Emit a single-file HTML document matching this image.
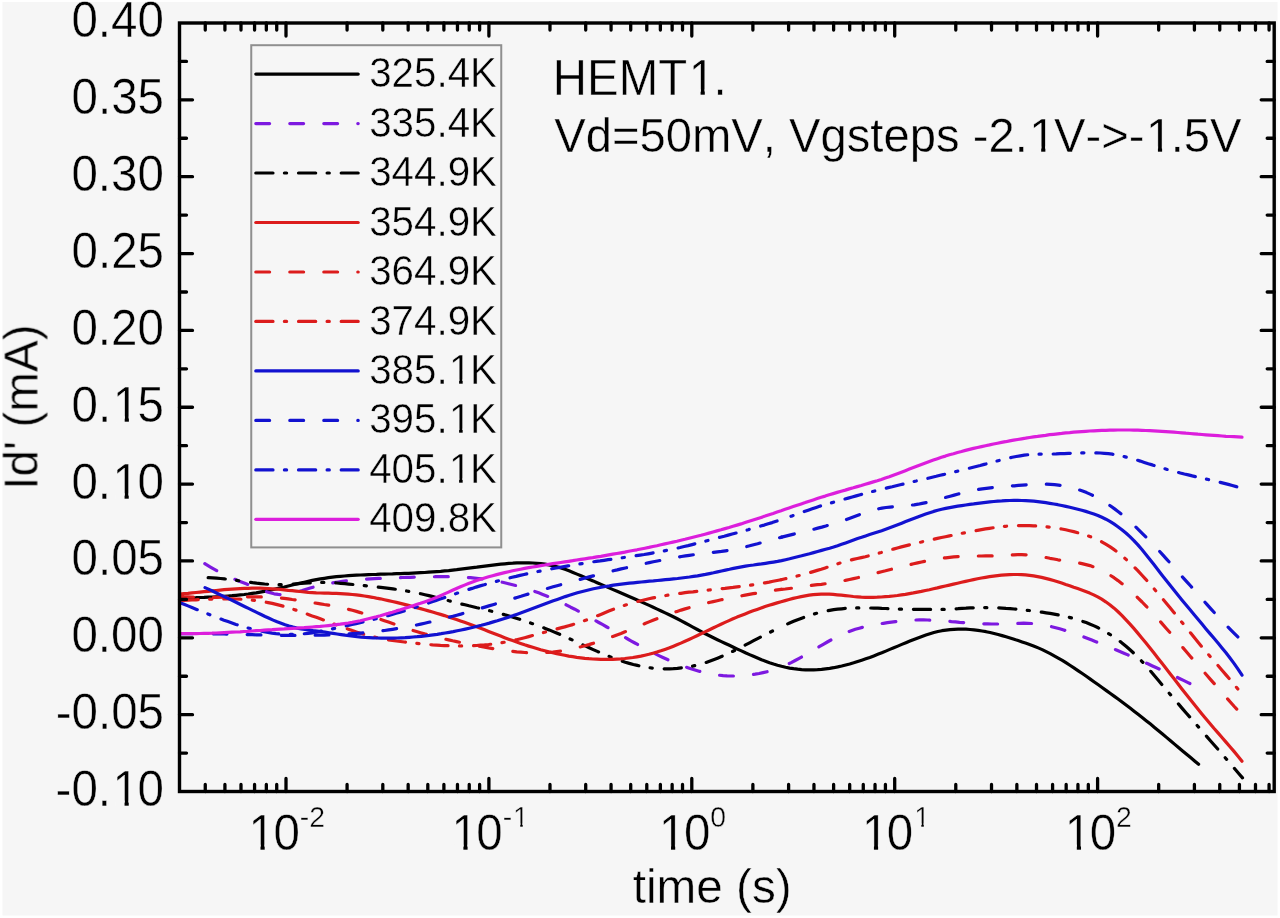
<!DOCTYPE html><html><head><meta charset="utf-8"><style>html,body{margin:0;padding:0;background:#fff;}svg{display:block;}text{font-family:"Liberation Sans",sans-serif;fill:#000;}</style></head><body>
<svg width="1280" height="918" viewBox="0 0 1280 918">
<rect x="0" y="0" width="1280" height="918" fill="#ffffff"/>
<rect x="2.5" y="2" width="1275" height="913.5" fill="#f6f6f6"/>
<g fill="none" stroke-linecap="round" stroke-linejoin="round">
<path d="M180.0,598.2 184.0,598.1 188.0,597.9 192.0,597.8 196.0,597.7 200.1,597.5 204.1,597.4 208.1,597.2 212.1,597.0 216.1,596.8 220.1,596.6 224.1,596.3 228.1,596.0 232.1,595.7 236.1,595.3 240.2,594.9 244.2,594.5 248.2,594.0 252.2,593.4 256.2,592.8 260.2,592.1 264.2,591.4 268.2,590.6 272.2,589.8 276.2,588.9 280.3,587.9 284.3,587.0 288.3,586.0 292.3,585.0 296.3,584.0 300.3,583.1 304.3,582.2 308.3,581.3 312.3,580.4 316.3,579.6 320.4,578.9 324.4,578.3 328.4,577.7 332.4,577.2 336.4,576.7 340.4,576.3 344.4,576.0 348.4,575.7 352.4,575.4 356.5,575.2 360.5,575.0 364.5,574.8 368.5,574.6 372.5,574.5 376.5,574.4 380.5,574.2 384.5,574.1 388.5,574.0 392.5,573.9 396.6,573.7 400.6,573.6 404.6,573.4 408.6,573.3 412.6,573.1 416.6,572.9 420.6,572.7 424.6,572.5 428.6,572.2 432.6,571.9 436.7,571.6 440.7,571.3 444.7,570.9 448.7,570.6 452.7,570.1 456.7,569.7 460.7,569.2 464.7,568.7 468.7,568.2 472.7,567.7 476.8,567.2 480.8,566.6 484.8,566.1 488.8,565.6 492.8,565.1 496.8,564.6 500.8,564.2 504.8,563.8 508.8,563.4 512.8,563.2 516.9,562.9 520.9,562.8 524.9,562.8 528.9,562.8 532.9,563.0 536.9,563.3 540.9,563.7 544.9,564.2 548.9,564.9 553.0,565.8 557.0,566.8 561.0,567.9 565.0,569.3 569.0,570.8 573.0,572.4 577.0,574.1 581.0,575.8 585.0,577.5 589.0,579.2 593.1,580.9 597.1,582.7 601.1,584.4 605.1,586.1 609.1,587.9 613.1,589.6 617.1,591.3 621.1,593.0 625.1,594.8 629.1,596.5 633.2,598.3 637.2,600.0 641.2,601.8 645.2,603.6 649.2,605.4 653.2,607.2 657.2,609.1 661.2,611.0 665.2,612.9 669.2,614.8 673.3,616.8 677.3,618.8 681.3,620.9 685.3,623.0 689.3,625.2 693.3,627.3 697.3,629.5 701.3,631.7 705.3,633.8 709.4,635.8 713.4,637.8 717.4,639.7 721.4,641.6 725.4,643.5 729.4,645.3 733.4,647.2 737.4,649.1 741.4,650.9 745.4,652.8 749.5,654.6 753.5,656.3 757.5,658.0 761.5,659.7 765.5,661.2 769.5,662.7 773.5,664.0 777.5,665.2 781.5,666.3 785.5,667.3 789.6,668.1 793.6,668.7 797.6,669.2 801.6,669.6 805.6,669.8 809.6,669.9 813.6,669.9 817.6,669.7 821.6,669.4 825.6,668.9 829.7,668.4 833.7,667.7 837.7,666.9 841.7,666.0 845.7,665.0 849.7,664.0 853.7,662.8 857.7,661.5 861.7,660.2 865.8,658.8 869.8,657.4 873.8,655.9 877.8,654.3 881.8,652.8 885.8,651.1 889.8,649.4 893.8,647.8 897.8,646.1 901.8,644.4 905.9,642.7 909.9,641.0 913.9,639.4 917.9,637.9 921.9,636.4 925.9,635.0 929.9,633.7 933.9,632.5 937.9,631.5 941.9,630.7 946.0,630.1 950.0,629.6 954.0,629.3 958.0,629.2 962.0,629.1 966.0,629.2 970.0,629.5 974.0,629.9 978.0,630.3 982.0,631.0 986.1,631.7 990.1,632.5 994.1,633.5 998.1,634.5 1002.1,635.6 1006.1,636.8 1010.1,638.0 1014.1,639.3 1018.1,640.6 1022.1,641.9 1026.2,643.3 1030.2,644.7 1034.2,646.2 1038.2,647.9 1042.2,649.6 1046.2,651.6 1050.2,653.6 1054.2,655.8 1058.2,658.1 1062.3,660.4 1066.3,662.9 1070.3,665.5 1074.3,668.1 1078.3,670.8 1082.3,673.5 1086.3,676.3 1090.3,679.1 1094.3,682.0 1098.3,684.8 1102.4,687.7 1106.4,690.6 1110.4,693.5 1114.4,696.4 1118.4,699.3 1122.4,702.3 1126.4,705.3 1130.4,708.3 1134.4,711.4 1138.4,714.5 1142.5,717.7 1146.5,720.9 1150.5,724.1 1154.5,727.4 1158.5,730.7 1162.5,734.0 1166.5,737.4 1170.5,740.7 1174.5,744.1 1178.5,747.5 1182.6,750.9 1186.6,754.3 1190.6,757.6 1194.6,761.0 1198.6,764.3" stroke="#000000" stroke-width="3.2"/>
<path d="M202.0,561.8 206.0,564.4 210.0,566.8 214.0,569.1 218.0,571.4 222.0,573.5 226.0,575.4 230.1,577.3 234.1,579.0 238.1,580.7 242.1,582.2 246.1,583.8 250.1,585.4 254.1,587.1 258.1,588.7 262.1,590.2 266.1,591.6 270.1,592.8 274.1,593.8 278.2,594.4 282.2,594.7 286.2,594.4 290.2,593.8 294.2,592.9 298.2,591.7 302.2,590.5 306.2,589.2 310.2,588.0 314.2,586.9 318.2,585.8 322.2,584.9 326.3,584.1 330.3,583.3 334.3,582.6 338.3,582.0 342.3,581.4 346.3,580.9 350.3,580.4 354.3,580.0 358.3,579.7 362.3,579.4 366.3,579.1 370.3,578.8 374.3,578.6 378.4,578.4 382.4,578.3 386.4,578.1 390.4,578.0 394.4,577.8 398.4,577.7 402.4,577.5 406.4,577.4 410.4,577.3 414.4,577.1 418.4,577.0 422.4,576.9 426.5,576.8 430.5,576.7 434.5,576.7 438.5,576.6 442.5,576.6 446.5,576.7 450.5,576.7 454.5,576.8 458.5,577.0 462.5,577.2 466.5,577.4 470.5,577.7 474.6,578.1 478.6,578.5 482.6,579.0 486.6,579.5 490.6,580.1 494.6,580.8 498.6,581.5 502.6,582.3 506.6,583.2 510.6,584.2 514.6,585.2 518.6,586.3 522.6,587.4 526.7,588.7 530.7,590.0 534.7,591.4 538.7,592.8 542.7,594.4 546.7,596.0 550.7,597.7 554.7,599.4 558.7,601.3 562.7,603.2 566.7,605.1 570.7,607.2 574.8,609.2 578.8,611.4 582.8,613.5 586.8,615.7 590.8,617.9 594.8,620.2 598.8,622.5 602.8,624.7 606.8,627.0 610.8,629.3 614.8,631.6 618.8,633.9 622.9,636.2 626.9,638.5 630.9,640.8 634.9,643.0 638.9,645.2 642.9,647.4 646.9,649.5 650.9,651.6 654.9,653.6 658.9,655.6 662.9,657.5 666.9,659.3 670.9,661.1 675.0,662.8 679.0,664.4 683.0,666.0 687.0,667.4 691.0,668.8 695.0,670.0 699.0,671.2 703.0,672.2 707.0,673.1 711.0,673.9 715.0,674.6 719.0,675.2 723.1,675.6 727.1,675.9 731.1,676.0 735.1,676.0 739.1,675.9 743.1,675.7 747.1,675.3 751.1,674.8 755.1,674.2 759.1,673.5 763.1,672.6 767.1,671.7 771.1,670.5 775.2,669.3 779.2,667.8" stroke="#7d19e0" stroke-width="3.2" stroke-dasharray="13.8 20.2" stroke-dashoffset="30.64"/>
<path d="M779.2,667.8 783.2,666.2 787.2,664.5 791.2,662.6 795.2,660.5 799.2,658.3 803.2,656.1 807.2,653.8 811.2,651.4 815.2,649.0 819.2,646.7 823.3,644.3 827.3,642.0 831.3,639.8 835.3,637.7 839.3,635.7 843.3,633.9 847.3,632.2 851.3,630.7 855.3,629.3 859.3,628.2 863.3,627.1 867.3,626.2 871.4,625.4 875.4,624.6 879.4,623.9 883.4,623.3 887.4,622.7 891.4,622.1 895.4,621.6 899.4,621.1 903.4,620.7 907.4,620.4 911.4,620.1 915.4,620.0 919.4,619.9 923.5,619.9 927.5,620.0 931.5,620.2 935.5,620.4 939.5,620.6 943.5,620.9 947.5,621.2 951.5,621.6 955.5,621.9 959.5,622.3 963.5,622.6 967.5,622.9 971.6,623.2 975.6,623.4 979.6,623.6 983.6,623.8 987.6,623.9 991.6,624.0 995.6,624.0 999.6,624.0 1003.6,623.8 1007.6,623.7 1011.6,623.5 1015.6,623.4 1019.7,623.3 1023.7,623.2 1027.7,623.3 1031.7,623.5 1035.7,623.8 1039.7,624.3 1043.7,625.0 1047.7,625.8 1051.7,626.7 1055.7,627.7 1059.7,628.8 1063.7,630.0 1067.7,631.3 1071.8,632.7 1075.8,634.1 1079.8,635.5 1083.8,637.0 1087.8,638.6 1091.8,640.1 1095.8,641.7 1099.8,643.3 1103.8,644.9 1107.8,646.5 1111.8,648.1 1115.8,649.8 1119.9,651.5 1123.9,653.2 1127.9,654.9 1131.9,656.7 1135.9,658.5 1139.9,660.2 1143.9,662.0 1147.9,663.8 1151.9,665.7 1155.9,667.5 1159.9,669.3 1163.9,671.2 1168.0,673.1 1172.0,674.9 1176.0,676.8 1180.0,678.7 1184.0,680.6 1188.0,682.6 1192.0,684.5" stroke="#7d19e0" stroke-width="3.2" stroke-dasharray="13.8 20.2" stroke-dashoffset="23.04"/>
<path d="M204.5,577.6 208.5,577.7 212.5,577.9 216.5,578.1 220.5,578.5 224.5,578.9 228.5,579.4 232.6,579.9 236.6,580.4 240.6,581.0 244.6,581.6 248.6,582.1 252.6,582.7 256.6,583.2 260.6,583.6 264.6,584.0 268.6,584.3 272.6,584.5 276.6,584.7 280.6,584.7 284.7,584.6 288.7,584.4 292.7,584.1 296.7,583.8 300.7,583.5 304.7,583.2 308.7,582.9 312.7,582.7 316.7,582.5 320.7,582.4 324.7,582.4 328.7,582.5 332.7,582.7 336.8,583.0 340.8,583.3 344.8,583.7 348.8,584.1 352.8,584.5 356.8,584.9 360.8,585.3 364.8,585.7 368.8,586.1 372.8,586.5 376.8,586.9 380.8,587.4 384.8,587.9 388.9,588.4 392.9,588.9 396.9,589.5 400.9,590.1 404.9,590.7 408.9,591.4 412.9,592.1 416.9,592.9 420.9,593.8 424.9,594.7 428.9,595.6 432.9,596.6 436.9,597.7 441.0,598.7 445.0,599.7 449.0,600.8 453.0,601.8 457.0,602.9 461.0,603.9 465.0,604.8 469.0,605.8 473.0,606.7 477.0,607.7 481.0,608.6 485.0,609.6 489.0,610.6 493.1,611.6 497.1,612.6 501.1,613.7 505.1,614.9 509.1,616.0 513.1,617.2 517.1,618.5 521.1,619.8 525.1,621.1 529.1,622.5 533.1,623.9 537.1,625.3 541.1,626.8 545.2,628.4 549.2,629.9 553.2,631.6 557.2,633.3 561.2,635.0 565.2,636.7 569.2,638.6 573.2,640.4 577.2,642.2 581.2,644.1 585.2,645.9 589.2,647.8 593.2,649.6 597.3,651.4 601.3,653.1 605.3,654.8 609.3,656.4 613.3,658.0 617.3,659.5 621.3,660.9 625.3,662.2 629.3,663.4 633.3,664.5 637.3,665.4 641.3,666.3 645.3,667.1 649.4,667.7 653.4,668.2 657.4,668.5 661.4,668.8 665.4,668.8 669.4,668.8 673.4,668.6 677.4,668.3 681.4,667.8 685.4,667.3 689.4,666.7 693.4,665.9 697.4,665.0 701.5,663.9 705.5,662.7 709.5,661.3 713.5,659.8 717.5,658.2 721.5,656.5 725.5,654.7 729.5,652.9 733.5,651.0 737.5,649.0 741.5,646.9 745.5,644.9 749.6,642.8 753.6,640.7 757.6,638.6 761.6,636.5 765.6,634.5 769.6,632.5 773.6,630.5 777.6,628.5 781.6,626.6" stroke="#000000" stroke-width="3.2" stroke-dasharray="17.2 11.4 2.2 11.9" stroke-dashoffset="39.07"/>
<path d="M781.6,626.6 785.6,624.8 789.6,623.0 793.6,621.3 797.6,619.7 801.7,618.2 805.7,616.7 809.7,615.4 813.7,614.1 817.7,613.0 821.7,612.0 825.7,611.1 829.7,610.4 833.7,609.7 837.7,609.2 841.7,608.8 845.7,608.4 849.7,608.2 853.8,608.0 857.8,607.9 861.8,607.9 865.8,607.9 869.8,608.0 873.8,608.1 877.8,608.2 881.8,608.4 885.8,608.5 889.8,608.7 893.8,608.8 897.8,609.0 901.8,609.1 905.9,609.2 909.9,609.3 913.9,609.3 917.9,609.4 921.9,609.4 925.9,609.4 929.9,609.4 933.9,609.5 937.9,609.5 941.9,609.4 945.9,609.3 949.9,609.1 953.9,608.9 958.0,608.7 962.0,608.4 966.0,608.2 970.0,607.9 974.0,607.8 978.0,607.7 982.0,607.6 986.0,607.6 990.0,607.7 994.0,607.8 998.0,607.9 1002.0,608.1 1006.0,608.4 1010.1,608.6 1014.1,609.0 1018.1,609.3 1022.1,609.7 1026.1,610.2 1030.1,610.6 1034.1,611.1 1038.1,611.7 1042.1,612.2 1046.1,612.8 1050.1,613.4 1054.1,614.1 1058.1,614.9 1062.2,615.7 1066.2,616.6 1070.2,617.6 1074.2,618.6 1078.2,619.8 1082.2,621.2 1086.2,622.6 1090.2,624.2 1094.2,625.9 1098.2,627.8 1102.2,629.9 1106.2,632.2 1110.2,634.6 1114.3,637.3 1118.3,640.1 1122.3,643.2 1126.3,646.5 1130.3,650.0 1134.3,653.7 1138.3,657.6 1142.3,661.8 1146.3,666.2 1150.3,670.8 1154.3,675.5 1158.3,680.3 1162.3,685.1 1166.4,689.9 1170.4,694.6 1174.4,699.3 1178.4,703.9 1182.4,708.6 1186.4,713.2 1190.4,717.8 1194.4,722.3 1198.4,726.9 1202.4,731.5 1206.4,736.1 1210.4,740.7 1214.4,745.3 1218.5,749.9 1222.5,754.5 1226.5,759.2 1230.5,763.8 1234.5,768.5 1238.5,773.2 1242.5,777.9" stroke="#000000" stroke-width="3.2" stroke-dasharray="17.2 11.4 2.2 11.9" stroke-dashoffset="36.02"/>
<path d="M180.0,594.0 184.0,593.6 188.0,593.3 192.0,592.9 196.0,592.5 200.0,592.1 204.0,591.7 208.1,591.3 212.1,590.9 216.1,590.5 220.1,590.1 224.1,589.7 228.1,589.4 232.1,589.1 236.1,588.8 240.1,588.6 244.1,588.4 248.1,588.3 252.1,588.2 256.1,588.2 260.2,588.2 264.2,588.3 268.2,588.5 272.2,588.8 276.2,589.1 280.2,589.4 284.2,589.8 288.2,590.3 292.2,590.7 296.2,591.1 300.2,591.5 304.2,591.9 308.2,592.3 312.2,592.6 316.3,592.9 320.3,593.0 324.3,593.2 328.3,593.2 332.3,593.3 336.3,593.4 340.3,593.6 344.3,593.8 348.3,594.1 352.3,594.5 356.3,594.9 360.3,595.4 364.3,596.0 368.4,596.6 372.4,597.3 376.4,598.1 380.4,598.8 384.4,599.7 388.4,600.6 392.4,601.5 396.4,602.4 400.4,603.4 404.4,604.4 408.4,605.4 412.4,606.5 416.4,607.6 420.5,608.6 424.5,609.7 428.5,610.9 432.5,612.0 436.5,613.2 440.5,614.4 444.5,615.6 448.5,616.9 452.5,618.2 456.5,619.5 460.5,620.9 464.5,622.3 468.5,623.7 472.6,625.2 476.6,626.7 480.6,628.2 484.6,629.8 488.6,631.4 492.6,633.0 496.6,634.6 500.6,636.1 504.6,637.7 508.6,639.2 512.6,640.6 516.6,642.1 520.6,643.4 524.6,644.8 528.7,646.1 532.7,647.3 536.7,648.5 540.7,649.7 544.7,650.7 548.7,651.8 552.7,652.8 556.7,653.7 560.7,654.5 564.7,655.3 568.7,656.1 572.7,656.7 576.7,657.3 580.8,657.8 584.8,658.3 588.8,658.7 592.8,659.0 596.8,659.2 600.8,659.4 604.8,659.4 608.8,659.4 612.8,659.3 616.8,659.1 620.8,658.9 624.8,658.5 628.8,658.0 632.9,657.5 636.9,656.8 640.9,656.1 644.9,655.2 648.9,654.3 652.9,653.2 656.9,652.1 660.9,650.8 664.9,649.4 668.9,648.0 672.9,646.4 676.9,644.8 680.9,643.1 685.0,641.3 689.0,639.5 693.0,637.6 697.0,635.7 701.0,633.8 705.0,631.9 709.0,630.0 713.0,628.0 717.0,626.1 721.0,624.3 725.0,622.4 729.0,620.6 733.0,618.8 737.0,617.1 741.1,615.5 745.1,613.9 749.1,612.3 753.1,610.8 757.1,609.4 761.1,608.0 765.1,606.6 769.1,605.3 773.1,604.1 777.1,602.9 781.1,601.7 785.1,600.6 789.1,599.5 793.2,598.4 797.2,597.5 801.2,596.6 805.2,595.9 809.2,595.2 813.2,594.7 817.2,594.3 821.2,594.1 825.2,594.1 829.2,594.2 833.2,594.4 837.2,594.8 841.2,595.2 845.3,595.6 849.3,596.0 853.3,596.5 857.3,596.8 861.3,597.1 865.3,597.3 869.3,597.4 873.3,597.3 877.3,597.2 881.3,597.0 885.3,596.7 889.3,596.4 893.3,596.0 897.4,595.5 901.4,594.9 905.4,594.3 909.4,593.6 913.4,592.9 917.4,592.1 921.4,591.4 925.4,590.5 929.4,589.7 933.4,588.8 937.4,587.9 941.4,586.9 945.4,586.0 949.4,585.1 953.5,584.1 957.5,583.2 961.5,582.3 965.5,581.4 969.5,580.5 973.5,579.6 977.5,578.8 981.5,578.0 985.5,577.3 989.5,576.7 993.5,576.1 997.5,575.6 1001.5,575.2 1005.6,574.9 1009.6,574.6 1013.6,574.5 1017.6,574.5 1021.6,574.7 1025.6,574.9 1029.6,575.3 1033.6,575.9 1037.6,576.6 1041.6,577.4 1045.6,578.4 1049.6,579.4 1053.6,580.5 1057.7,581.7 1061.7,583.0 1065.7,584.4 1069.7,585.7 1073.7,587.2 1077.7,588.6 1081.7,590.0 1085.7,591.5 1089.7,593.1 1093.7,594.9 1097.7,596.9 1101.7,599.2 1105.7,601.8 1109.8,604.7 1113.8,607.9 1117.8,611.5 1121.8,615.4 1125.8,619.6 1129.8,623.9 1133.8,628.4 1137.8,633.1 1141.8,637.9 1145.8,642.8 1149.8,647.7 1153.8,652.8 1157.8,657.9 1161.8,663.1 1165.9,668.2 1169.9,673.4 1173.9,678.6 1177.9,683.7 1181.9,688.9 1185.9,694.0 1189.9,699.1 1193.9,704.1 1197.9,709.1 1201.9,714.0 1205.9,718.8 1209.9,723.6 1213.9,728.3 1218.0,732.9 1222.0,737.5 1226.0,742.1 1230.0,746.7 1234.0,751.4 1238.0,756.2 1242.0,761.2" stroke="#dc1c1c" stroke-width="3.2"/>
<path d="M180.0,596.4 184.0,596.7 188.0,596.9 192.0,597.1 196.0,597.2 200.0,597.3 204.1,597.4 208.1,597.4 212.1,597.3 216.1,597.3 220.1,597.2 224.1,597.1 228.1,597.1 232.1,597.0 236.1,596.9 240.1,596.8 244.1,596.8 248.1,596.8 252.2,596.8 256.2,596.8 260.2,596.9 264.2,597.0 268.2,597.1 272.2,597.4 276.2,597.7 280.2,598.0 284.2,598.4 288.2,598.9 292.2,599.5 296.3,600.0 300.3,600.6 304.3,601.3 308.3,601.9 312.3,602.5 316.3,603.2 320.3,603.8 324.3,604.5 328.3,605.1 332.3,605.8 336.3,606.6 340.3,607.4 344.4,608.3 348.4,609.3 352.4,610.3 356.4,611.4 360.4,612.6 364.4,613.9 368.4,615.2 372.4,616.5 376.4,617.9 380.4,619.3 384.4,620.7 388.5,622.1 392.5,623.5 396.5,624.9 400.5,626.3 404.5,627.7 408.5,629.0 412.5,630.3 416.5,631.5 420.5,632.7 424.5,633.9 428.5,635.0 432.5,636.0 436.6,637.0 440.6,638.0 444.6,639.0 448.6,639.9 452.6,640.8 456.6,641.6 460.6,642.5 464.6,643.3 468.6,644.1 472.6,644.9 476.6,645.6 480.7,646.4 484.7,647.1 488.7,647.9 492.7,648.6 496.7,649.2 500.7,649.8 504.7,650.4 508.7,651.0 512.7,651.4 516.7,651.9 520.7,652.2 524.7,652.5 528.8,652.7 532.8,652.8 536.8,652.9 540.8,652.8 544.8,652.6 548.8,652.4 552.8,652.0 556.8,651.5 560.8,651.0 564.8,650.3 568.8,649.5 572.9,648.7 576.9,647.8 580.9,646.8 584.9,645.7 588.9,644.6 592.9,643.4 596.9,642.1 600.9,640.8 604.9,639.4 608.9,638.0 612.9,636.5 616.9,634.9 621.0,633.4 625.0,631.8 629.0,630.1 633.0,628.5 637.0,626.9 641.0,625.2 645.0,623.6 649.0,621.9 653.0,620.3 657.0,618.7 661.0,617.2 665.1,615.7 669.1,614.2 673.1,612.8 677.1,611.4 681.1,610.1 685.1,608.9 689.1,607.7 693.1,606.6 697.1,605.5 701.1,604.5 705.1,603.5 709.1,602.5 713.2,601.6 717.2,600.7 721.2,599.8 725.2,599.0 729.2,598.2 733.2,597.4 737.2,596.6 741.2,595.9 745.2,595.1 749.2,594.4 753.2,593.7 757.3,593.0 761.3,592.3 765.3,591.6 769.3,591.0 773.3,590.5 777.3,589.9 781.3,589.4" stroke="#dc1c1c" stroke-width="3.2" stroke-dasharray="13.8 20.2" stroke-dashoffset="0.45"/>
<path d="M781.3,589.4 785.3,589.0 789.3,588.5 793.3,588.0 797.3,587.4 801.4,586.8 805.4,586.2 809.4,585.7 813.4,585.2 817.4,584.7 821.4,584.3 825.4,583.7 829.4,583.2 833.4,582.6 837.4,581.9 841.4,581.1 845.4,580.4 849.5,579.5 853.5,578.6 857.5,577.7 861.5,576.8 865.5,575.8 869.5,574.9 873.5,573.9 877.5,572.8 881.5,571.8 885.5,570.8 889.5,569.7 893.6,568.7 897.6,567.7 901.6,566.7 905.6,565.7 909.6,564.7 913.6,563.8 917.6,562.9 921.6,562.0 925.6,561.1 929.6,560.4 933.6,559.6 937.6,558.9 941.7,558.3 945.7,557.8 949.7,557.3 953.7,556.9 957.7,556.6 961.7,556.3 965.7,556.2 969.7,556.1 973.7,556.0 977.7,556.0 981.7,556.0 985.8,555.9 989.8,555.9 993.8,555.8 997.8,555.6 1001.8,555.4 1005.8,555.2 1009.8,555.0 1013.8,554.8 1017.8,554.7 1021.8,554.7 1025.8,554.9 1029.8,555.2 1033.9,555.6 1037.9,556.2 1041.9,556.8 1045.9,557.5 1049.9,558.3 1053.9,559.0 1057.9,559.8 1061.9,560.4 1065.9,561.1 1069.9,561.6 1073.9,562.2 1078.0,562.9 1082.0,563.6 1086.0,564.6 1090.0,565.6 1094.0,567.0 1098.0,568.6 1102.0,570.5 1106.0,572.7 1110.0,575.1 1114.0,577.7 1118.0,580.6 1122.0,583.7 1126.1,587.1 1130.1,590.6 1134.1,594.2 1138.1,598.1 1142.1,602.0 1146.1,606.1 1150.1,610.4 1154.1,614.7 1158.1,619.1 1162.1,623.6 1166.1,628.2 1170.2,632.8 1174.2,637.5 1178.2,642.1 1182.2,646.8 1186.2,651.5 1190.2,656.2 1194.2,660.8 1198.2,665.4 1202.2,670.0 1206.2,674.5 1210.2,679.1 1214.2,683.6 1218.3,688.2 1222.3,692.8 1226.3,697.4 1230.3,702.0 1234.3,706.5 1238.3,710.8" stroke="#dc1c1c" stroke-width="3.2" stroke-dasharray="13.8 20.2" stroke-dashoffset="3.67"/>
<path d="M180.0,600.5 184.0,600.4 188.0,600.2 192.0,600.0 196.0,599.8 200.0,599.6 204.0,599.5 208.1,599.3 212.1,599.1 216.1,599.0 220.1,598.9 224.1,598.9 228.1,598.9 232.1,598.9 236.1,599.0 240.1,599.2 244.1,599.4 248.1,599.7 252.1,600.1 256.1,600.6 260.2,601.1 264.2,601.8 268.2,602.6 272.2,603.4 276.2,604.4 280.2,605.4 284.2,606.5 288.2,607.7 292.2,609.0 296.2,610.2 300.2,611.6 304.2,613.0 308.2,614.4 312.2,615.9 316.3,617.3 320.3,618.8 324.3,620.3 328.3,621.8 332.3,623.4 336.3,624.9 340.3,626.3 344.3,627.8 348.3,629.2 352.3,630.6 356.3,631.9 360.3,633.2 364.3,634.4 368.4,635.5 372.4,636.6 376.4,637.5 380.4,638.4 384.4,639.1 388.4,639.8 392.4,640.4 396.4,641.0 400.4,641.5 404.4,642.0 408.4,642.5 412.4,643.0 416.4,643.4 420.5,643.8 424.5,644.2 428.5,644.5 432.5,644.9 436.5,645.1 440.5,645.4 444.5,645.6 448.5,645.7 452.5,645.9 456.5,645.9 460.5,646.0 464.5,645.9 468.5,645.8 472.6,645.7 476.6,645.5 480.6,645.2 484.6,644.9 488.6,644.5 492.6,644.0 496.6,643.5 500.6,642.9 504.6,642.2 508.6,641.4 512.6,640.6 516.6,639.7 520.6,638.7 524.6,637.7 528.7,636.6 532.7,635.5 536.7,634.4 540.7,633.3 544.7,632.2 548.7,631.1 552.7,630.1 556.7,629.0 560.7,627.9 564.7,626.9 568.7,625.7 572.7,624.6 576.7,623.3 580.8,622.0 584.8,620.6 588.8,619.2 592.8,617.6 596.8,616.0 600.8,614.4 604.8,612.7 608.8,611.1 612.8,609.5 616.8,608.0 620.8,606.6 624.8,605.3 628.8,604.0 632.9,602.8 636.9,601.7 640.9,600.7 644.9,599.7 648.9,598.8 652.9,597.9 656.9,597.1 660.9,596.4 664.9,595.7 668.9,595.0 672.9,594.4 676.9,593.8 680.9,593.3 685.0,592.7 689.0,592.2 693.0,591.8 697.0,591.3 701.0,590.8 705.0,590.4 709.0,590.0 713.0,589.6 717.0,589.1 721.0,588.7 725.0,588.3 729.0,587.8 733.0,587.4 737.0,586.9 741.1,586.4 745.1,585.9 749.1,585.4 753.1,584.8 757.1,584.2 761.1,583.5 765.1,582.8 769.1,582.1 773.1,581.3 777.1,580.5 781.1,579.7" stroke="#dc1c1c" stroke-width="3.2" stroke-dasharray="17.2 11.4 2.2 11.9" stroke-dashoffset="41.61"/>
<path d="M781.1,579.7 785.1,578.8 789.1,577.9 793.2,577.0 797.2,576.0 801.2,575.0 805.2,573.9 809.2,572.8 813.2,571.6 817.2,570.4 821.2,569.2 825.2,567.9 829.2,566.6 833.2,565.3 837.2,564.0 841.2,562.7 845.3,561.5 849.3,560.4 853.3,559.4 857.3,558.5 861.3,557.6 865.3,556.7 869.3,555.7 873.3,554.7 877.3,553.6 881.3,552.5 885.3,551.3 889.3,550.2 893.3,549.1 897.4,548.0 901.4,546.9 905.4,545.9 909.4,544.9 913.4,543.9 917.4,542.9 921.4,542.0 925.4,541.0 929.4,540.1 933.4,539.3 937.4,538.4 941.4,537.5 945.4,536.7 949.4,535.9 953.5,535.0 957.5,534.2 961.5,533.4 965.5,532.6 969.5,531.8 973.5,531.1 977.5,530.3 981.5,529.6 985.5,528.9 989.5,528.3 993.5,527.7 997.5,527.2 1001.5,526.7 1005.6,526.3 1009.6,526.0 1013.6,525.8 1017.6,525.6 1021.6,525.6 1025.6,525.6 1029.6,525.6 1033.6,525.8 1037.6,526.0 1041.6,526.3 1045.6,526.7 1049.6,527.2 1053.6,527.7 1057.7,528.3 1061.7,529.0 1065.7,529.8 1069.7,530.7 1073.7,531.6 1077.7,532.7 1081.7,533.8 1085.7,535.1 1089.7,536.5 1093.7,538.0 1097.7,539.8 1101.7,541.8 1105.7,544.1 1109.8,546.6 1113.8,549.4 1117.8,552.4 1121.8,555.6 1125.8,559.1 1129.8,562.8 1133.8,566.6 1137.8,570.7 1141.8,575.0 1145.8,579.3 1149.8,583.9 1153.8,588.5 1157.8,593.2 1161.8,597.9 1165.9,602.7 1169.9,607.5 1173.9,612.4 1177.9,617.3 1181.9,622.3 1185.9,627.2 1189.9,632.1 1193.9,637.1 1197.9,641.9 1201.9,646.8 1205.9,651.5 1209.9,656.2 1213.9,660.9 1218.0,665.5 1222.0,670.2 1226.0,674.9 1230.0,679.6 1234.0,684.4 1238.0,689.2 1242.0,694.2" stroke="#dc1c1c" stroke-width="3.2" stroke-dasharray="17.2 11.4 2.2 11.9" stroke-dashoffset="12.27"/>
<path d="M205.0,587.6 209.0,589.4 213.0,591.3 217.0,593.2 221.0,595.1 225.0,597.0 229.0,598.9 233.0,600.8 237.0,602.7 241.0,604.7 245.0,606.7 249.0,608.6 253.0,610.6 257.1,612.6 261.1,614.5 265.1,616.5 269.1,618.3 273.1,620.1 277.1,621.8 281.1,623.3 285.1,624.8 289.1,626.0 293.1,627.1 297.1,628.1 301.1,628.8 305.1,629.5 309.1,630.1 313.1,630.7 317.1,631.2 321.1,631.7 325.1,632.2 329.1,632.8 333.1,633.4 337.1,634.0 341.1,634.6 345.1,635.2 349.1,635.7 353.1,636.2 357.1,636.7 361.2,637.1 365.2,637.4 369.2,637.6 373.2,637.9 377.2,638.0 381.2,638.1 385.2,638.2 389.2,638.1 393.2,638.1 397.2,638.0 401.2,637.8 405.2,637.6 409.2,637.3 413.2,637.0 417.2,636.7 421.2,636.3 425.2,635.9 429.2,635.4 433.2,634.8 437.2,634.3 441.2,633.7 445.2,633.0 449.2,632.3 453.2,631.6 457.2,630.8 461.2,630.0 465.3,629.1 469.3,628.2 473.3,627.3 477.3,626.3 481.3,625.3 485.3,624.2 489.3,623.1 493.3,621.9 497.3,620.8 501.3,619.5 505.3,618.3 509.3,616.9 513.3,615.6 517.3,614.2 521.3,612.8 525.3,611.3 529.3,609.8 533.3,608.3 537.3,606.8 541.3,605.3 545.3,603.8 549.3,602.3 553.3,600.8 557.3,599.4 561.3,598.0 565.3,596.6 569.4,595.3 573.4,594.0 577.4,592.8 581.4,591.7 585.4,590.7 589.4,589.7 593.4,588.8 597.4,588.0 601.4,587.2 605.4,586.5 609.4,585.9 613.4,585.2 617.4,584.7 621.4,584.2 625.4,583.7 629.4,583.2 633.4,582.8 637.4,582.4 641.4,582.0 645.4,581.6 649.4,581.2 653.4,580.9 657.4,580.5 661.4,580.1 665.4,579.7 669.4,579.3 673.5,578.9 677.5,578.5 681.5,578.0 685.5,577.5 689.5,577.0 693.5,576.4 697.5,575.8 701.5,575.1 705.5,574.4 709.5,573.6 713.5,572.8 717.5,571.9 721.5,571.0 725.5,570.1 729.5,569.3 733.5,568.4 737.5,567.6 741.5,566.9 745.5,566.2 749.5,565.5 753.5,565.0 757.5,564.4 761.5,563.9 765.5,563.3 769.5,562.7 773.5,562.1 777.6,561.4 781.6,560.6 785.6,559.7 789.6,558.8 793.6,557.8 797.6,556.8 801.6,555.8 805.6,554.7 809.6,553.7 813.6,552.6 817.6,551.5 821.6,550.4 825.6,549.3 829.6,548.2 833.6,547.0 837.6,545.7 841.6,544.3 845.6,542.9 849.6,541.5 853.6,540.1 857.6,538.6 861.6,537.3 865.6,535.9 869.6,534.6 873.6,533.3 877.6,532.0 881.7,530.7 885.7,529.3 889.7,527.8 893.7,526.3 897.7,524.8 901.7,523.2 905.7,521.6 909.7,520.0 913.7,518.5 917.7,516.9 921.7,515.4 925.7,514.0 929.7,512.7 933.7,511.4 937.7,510.3 941.7,509.3 945.7,508.4 949.7,507.6 953.7,506.9 957.7,506.2 961.7,505.6 965.7,505.0 969.7,504.4 973.7,503.9 977.7,503.3 981.7,502.8 985.8,502.3 989.8,501.9 993.8,501.5 997.8,501.1 1001.8,500.9 1005.8,500.6 1009.8,500.5 1013.8,500.4 1017.8,500.4 1021.8,500.5 1025.8,500.7 1029.8,500.9 1033.8,501.2 1037.8,501.6 1041.8,502.1 1045.8,502.7 1049.8,503.3 1053.8,504.0 1057.8,504.7 1061.8,505.5 1065.8,506.4 1069.8,507.3 1073.8,508.3 1077.8,509.3 1081.8,510.3 1085.8,511.4 1089.9,512.7 1093.9,514.0 1097.9,515.5 1101.9,517.3 1105.9,519.2 1109.9,521.4 1113.9,523.9 1117.9,526.7 1121.9,529.7 1125.9,533.0 1129.9,536.7 1133.9,540.6 1137.9,544.9 1141.9,549.5 1145.9,554.4 1149.9,559.5 1153.9,564.6 1157.9,569.8 1161.9,574.9 1165.9,579.9 1169.9,585.0 1173.9,590.0 1177.9,594.9 1181.9,599.9 1185.9,604.8 1189.9,609.6 1194.0,614.5 1198.0,619.3 1202.0,624.1 1206.0,628.9 1210.0,633.6 1214.0,638.3 1218.0,643.1 1222.0,647.9 1226.0,652.8 1230.0,658.0 1234.0,663.4 1238.0,669.1 1242.0,675.2" stroke="#1212d0" stroke-width="3.2"/>
<path d="M180.0,633.7 184.0,633.6 188.0,633.6 192.0,633.6 196.0,633.6 200.1,633.7 204.1,633.7 208.1,633.8 212.1,633.8 216.1,633.9 220.1,634.0 224.1,634.0 228.1,634.1 232.1,634.2 236.2,634.3 240.2,634.4 244.2,634.5 248.2,634.6 252.2,634.7 256.2,634.8 260.2,634.9 264.2,635.0 268.2,635.1 272.3,635.1 276.3,635.2 280.3,635.3 284.3,635.3 288.3,635.3 292.3,635.4 296.3,635.4 300.3,635.4 304.4,635.4 308.4,635.4 312.4,635.3 316.4,635.2 320.4,635.2 324.4,635.1 328.4,634.9 332.4,634.8 336.4,634.6 340.5,634.5 344.5,634.2 348.5,634.0 352.5,633.7 356.5,633.4 360.5,633.1 364.5,632.8 368.5,632.4 372.5,631.9 376.6,631.5 380.6,631.0 384.6,630.5 388.6,629.9 392.6,629.3 396.6,628.7 400.6,628.0 404.6,627.3 408.6,626.6 412.7,625.8 416.7,625.0 420.7,624.1 424.7,623.2 428.7,622.3 432.7,621.4 436.7,620.4 440.7,619.4 444.8,618.4 448.8,617.3 452.8,616.3 456.8,615.2 460.8,614.1 464.8,612.9 468.8,611.8 472.8,610.7 476.8,609.5 480.9,608.3 484.9,607.1 488.9,605.9 492.9,604.7 496.9,603.5 500.9,602.3 504.9,601.1 508.9,599.9 512.9,598.7 517.0,597.5 521.0,596.3 525.0,595.0 529.0,593.8 533.0,592.7 537.0,591.5 541.0,590.3 545.0,589.1 549.0,588.0 553.1,586.8 557.1,585.7 561.1,584.6 565.1,583.4 569.1,582.3 573.1,581.2 577.1,580.1 581.1,579.1 585.1,578.0 589.2,576.9 593.2,575.9 597.2,574.9 601.2,573.8 605.2,572.8 609.2,571.8 613.2,570.8 617.2,569.9 621.2,568.9 625.3,568.0 629.3,567.1 633.3,566.1 637.3,565.2 641.3,564.4 645.3,563.5 649.3,562.6 653.3,561.8 657.4,561.0 661.4,560.2 665.4,559.4 669.4,558.6 673.4,557.9 677.4,557.2 681.4,556.5 685.4,555.9 689.4,555.3 693.5,554.7 697.5,554.2 701.5,553.7 705.5,553.3 709.5,552.9 713.5,552.4 717.5,551.9 721.5,551.4 725.5,550.8 729.6,550.2 733.6,549.4 737.6,548.6 741.6,547.7 745.6,546.8 749.6,545.8 753.6,544.7 757.6,543.7 761.6,542.6 765.7,541.5 769.7,540.3 773.7,539.3 777.7,538.2 781.7,537.1" stroke="#1212d0" stroke-width="3.2" stroke-dasharray="13.8 20.2" stroke-dashoffset="0.83"/>
<path d="M781.7,537.1 785.7,536.1 789.7,535.1 793.7,534.1 797.8,533.1 801.8,532.2 805.8,531.2 809.8,530.2 813.8,529.2 817.8,528.1 821.8,527.1 825.8,526.0 829.8,524.8 833.9,523.6 837.9,522.4 841.9,521.0 845.9,519.7 849.9,518.2 853.9,516.7 857.9,515.2 861.9,513.7 865.9,512.3 870.0,511.0 874.0,509.9 878.0,508.9 882.0,508.1 886.0,507.5 890.0,507.1 894.0,506.7 898.0,506.4 902.0,506.1 906.1,505.7 910.1,505.3 914.1,504.8 918.1,504.2 922.1,503.4 926.1,502.6 930.1,501.6 934.1,500.6 938.1,499.6 942.2,498.5 946.2,497.3 950.2,496.2 954.2,495.1 958.2,494.0 962.2,493.0 966.2,492.0 970.2,491.0 974.3,490.2 978.3,489.5 982.3,488.8 986.3,488.3 990.3,487.8 994.3,487.4 998.3,487.1 1002.3,486.7 1006.3,486.4 1010.4,486.1 1014.4,485.8 1018.4,485.4 1022.4,485.1 1026.4,484.8 1030.4,484.5 1034.4,484.2 1038.4,484.1 1042.4,484.0 1046.5,484.1 1050.5,484.3 1054.5,484.6 1058.5,485.1 1062.5,485.7 1066.5,486.4 1070.5,487.4 1074.5,488.4 1078.5,489.7 1082.6,491.1 1086.6,492.6 1090.6,494.4 1094.6,496.3 1098.6,498.5 1102.6,500.8 1106.6,503.3 1110.6,506.0 1114.6,508.9 1118.7,512.0 1122.7,515.2 1126.7,518.7 1130.7,522.2 1134.7,526.0 1138.7,529.8 1142.7,533.8 1146.7,537.8 1150.8,542.0 1154.8,546.2 1158.8,550.5 1162.8,554.9 1166.8,559.3 1170.8,563.7 1174.8,568.2 1178.8,572.7 1182.8,577.3 1186.9,581.8 1190.9,586.3 1194.9,590.9 1198.9,595.4 1202.9,599.9 1206.9,604.4 1210.9,608.8 1214.9,613.2 1218.9,617.5 1223.0,621.8 1227.0,626.0 1231.0,630.1 1235.0,634.1 1239.0,638.1" stroke="#1212d0" stroke-width="3.2" stroke-dasharray="13.8 20.2" stroke-dashoffset="0.84"/>
<path d="M180.0,602.6 184.0,604.2 188.0,605.9 192.0,607.5 196.0,609.2 200.0,610.8 204.0,612.4 208.0,614.0 212.0,615.6 216.0,617.2 220.0,618.7 224.0,620.2 228.0,621.6 232.0,623.0 236.0,624.4 240.0,625.7 244.0,626.9 248.0,628.0 252.0,629.1 256.0,630.0 260.0,630.9 264.0,631.7 268.0,632.4 272.0,633.1 276.0,633.6 280.0,634.0 284.0,634.2 288.0,634.4 292.0,634.4 296.0,634.4 300.0,634.1 304.0,633.8 308.0,633.3 312.0,632.8 316.0,632.1 320.0,631.4 324.0,630.6 328.0,629.8 332.0,628.9 336.0,628.1 340.0,627.2 344.0,626.3 348.0,625.4 352.0,624.5 356.0,623.6 360.1,622.7 364.1,621.7 368.1,620.8 372.1,619.8 376.1,618.8 380.1,617.7 384.1,616.7 388.1,615.6 392.1,614.5 396.1,613.3 400.1,612.2 404.1,611.0 408.1,609.8 412.1,608.5 416.1,607.2 420.1,605.9 424.1,604.6 428.1,603.2 432.1,601.8 436.1,600.4 440.1,599.1 444.1,597.7 448.1,596.3 452.1,594.9 456.1,593.6 460.1,592.2 464.1,590.9 468.1,589.6 472.1,588.4 476.1,587.1 480.1,585.9 484.1,584.8 488.1,583.6 492.1,582.5 496.1,581.4 500.1,580.4 504.1,579.3 508.1,578.3 512.1,577.3 516.1,576.4 520.1,575.4 524.1,574.5 528.1,573.6 532.1,572.8 536.1,571.9 540.1,571.1 544.1,570.3 548.1,569.5 552.1,568.7 556.1,568.0 560.1,567.3 564.1,566.6 568.1,565.9 572.1,565.2 576.1,564.5 580.1,563.9 584.1,563.2 588.1,562.6 592.1,562.0 596.1,561.4 600.1,560.9 604.1,560.3 608.1,559.7 612.1,559.2 616.1,558.6 620.1,558.1 624.1,557.5 628.1,556.9 632.1,556.3 636.1,555.7 640.1,555.1 644.1,554.5 648.1,553.8 652.1,553.1 656.1,552.4 660.1,551.7 664.1,550.9 668.1,550.1 672.1,549.3 676.1,548.4 680.1,547.5 684.1,546.5 688.1,545.6 692.1,544.6 696.1,543.6 700.1,542.5 704.1,541.5 708.1,540.4 712.2,539.4 716.2,538.3 720.2,537.2 724.2,536.2 728.2,535.1 732.2,534.0 736.2,533.0 740.2,531.9 744.2,530.8 748.2,529.7 752.2,528.5 756.2,527.4 760.2,526.2 764.2,525.1 768.2,523.8 772.2,522.6 776.2,521.3 780.2,520.0" stroke="#1212d0" stroke-width="3.2" stroke-dasharray="17.2 11.4 2.2 11.9" stroke-dashoffset="41.23"/>
<path d="M780.2,520.0 784.2,518.7 788.2,517.3 792.2,515.9 796.2,514.5 800.2,513.0 804.2,511.6 808.2,510.2 812.2,508.8 816.2,507.4 820.2,506.1 824.2,504.9 828.2,503.8 832.2,502.6 836.2,501.5 840.2,500.3 844.2,499.2 848.2,498.1 852.2,497.0 856.2,495.9 860.2,494.8 864.2,493.7 868.2,492.7 872.2,491.6 876.2,490.6 880.2,489.6 884.2,488.6 888.2,487.6 892.2,486.7 896.2,485.7 900.2,484.7 904.2,483.8 908.2,482.8 912.2,481.9 916.2,481.0 920.2,480.0 924.2,479.1 928.2,478.2 932.2,477.2 936.2,476.3 940.2,475.3 944.2,474.4 948.2,473.4 952.2,472.5 956.2,471.5 960.2,470.5 964.2,469.5 968.2,468.5 972.2,467.5 976.2,466.5 980.2,465.5 984.2,464.4 988.2,463.4 992.2,462.3 996.2,461.2 1000.2,460.2 1004.2,459.1 1008.2,458.2 1012.2,457.3 1016.2,456.5 1020.2,455.8 1024.2,455.2 1028.2,454.7 1032.2,454.4 1036.2,454.2 1040.2,454.1 1044.2,454.0 1048.2,454.0 1052.2,454.0 1056.2,453.9 1060.2,453.7 1064.3,453.6 1068.3,453.4 1072.3,453.2 1076.3,453.1 1080.3,452.9 1084.3,452.8 1088.3,452.8 1092.3,452.8 1096.3,452.9 1100.3,453.0 1104.3,453.3 1108.3,453.7 1112.3,454.2 1116.3,454.9 1120.3,455.7 1124.3,456.6 1128.3,457.6 1132.3,458.7 1136.3,459.9 1140.3,461.1 1144.3,462.4 1148.3,463.7 1152.3,464.9 1156.3,466.2 1160.3,467.4 1164.3,468.6 1168.3,469.8 1172.3,470.9 1176.3,471.9 1180.3,473.0 1184.3,474.0 1188.3,474.9 1192.3,475.9 1196.3,476.8 1200.3,477.7 1204.3,478.6 1208.3,479.5 1212.3,480.4 1216.3,481.4 1220.3,482.4 1224.3,483.4 1228.3,484.4 1232.3,485.5 1236.3,486.6 1240.3,487.8" stroke="#1212d0" stroke-width="3.2" stroke-dasharray="17.2 11.4 2.2 11.9" stroke-dashoffset="17.23"/>
<path d="M180.0,633.7 184.0,633.7 188.0,633.7 192.0,633.7 196.0,633.6 200.0,633.5 204.0,633.4 208.1,633.3 212.1,633.2 216.1,633.0 220.1,632.8 224.1,632.6 228.1,632.4 232.1,632.2 236.1,632.0 240.1,631.8 244.1,631.5 248.1,631.3 252.1,631.0 256.1,630.7 260.2,630.5 264.2,630.2 268.2,629.9 272.2,629.7 276.2,629.4 280.2,629.1 284.2,628.9 288.2,628.6 292.2,628.3 296.2,628.1 300.2,627.8 304.2,627.6 308.2,627.3 312.2,627.0 316.3,626.7 320.3,626.4 324.3,626.0 328.3,625.6 332.3,625.2 336.3,624.7 340.3,624.2 344.3,623.6 348.3,623.0 352.3,622.3 356.3,621.5 360.3,620.7 364.3,619.8 368.4,618.8 372.4,617.8 376.4,616.8 380.4,615.7 384.4,614.5 388.4,613.4 392.4,612.2 396.4,610.9 400.4,609.7 404.4,608.4 408.4,607.2 412.4,605.9 416.4,604.6 420.5,603.3 424.5,601.9 428.5,600.5 432.5,599.0 436.5,597.4 440.5,595.7 444.5,593.9 448.5,592.1 452.5,590.3 456.5,588.5 460.5,586.8 464.5,585.1 468.5,583.5 472.6,582.0 476.6,580.6 480.6,579.3 484.6,578.0 488.6,576.8 492.6,575.7 496.6,574.6 500.6,573.6 504.6,572.6 508.6,571.7 512.6,570.8 516.6,570.0 520.6,569.2 524.6,568.4 528.7,567.7 532.7,567.0 536.7,566.3 540.7,565.6 544.7,565.0 548.7,564.3 552.7,563.7 556.7,563.1 560.7,562.5 564.7,561.9 568.7,561.3 572.7,560.7 576.7,560.0 580.8,559.4 584.8,558.8 588.8,558.2 592.8,557.6 596.8,556.9 600.8,556.3 604.8,555.6 608.8,554.9 612.8,554.2 616.8,553.5 620.8,552.8 624.8,552.1 628.8,551.3 632.9,550.5 636.9,549.8 640.9,549.0 644.9,548.2 648.9,547.4 652.9,546.5 656.9,545.7 660.9,544.8 664.9,543.9 668.9,543.0 672.9,542.1 676.9,541.2 680.9,540.2 685.0,539.3 689.0,538.3 693.0,537.3 697.0,536.3 701.0,535.3 705.0,534.2 709.0,533.1 713.0,532.0 717.0,530.9 721.0,529.8 725.0,528.6 729.0,527.5 733.0,526.3 737.0,525.1 741.1,523.9 745.1,522.6 749.1,521.3 753.1,520.0 757.1,518.7 761.1,517.4 765.1,516.1 769.1,514.7 773.1,513.4 777.1,512.0 781.1,510.7 785.1,509.3 789.1,508.0 793.2,506.6 797.2,505.2 801.2,503.9 805.2,502.6 809.2,501.2 813.2,499.9 817.2,498.6 821.2,497.3 825.2,496.1 829.2,494.8 833.2,493.6 837.2,492.4 841.2,491.2 845.3,490.1 849.3,488.9 853.3,487.8 857.3,486.6 861.3,485.5 865.3,484.3 869.3,483.1 873.3,481.9 877.3,480.7 881.3,479.4 885.3,478.0 889.3,476.7 893.3,475.2 897.4,473.7 901.4,472.2 905.4,470.7 909.4,469.1 913.4,467.6 917.4,466.0 921.4,464.5 925.4,463.0 929.4,461.5 933.4,460.1 937.4,458.7 941.4,457.3 945.4,456.1 949.4,454.8 953.5,453.7 957.5,452.5 961.5,451.5 965.5,450.4 969.5,449.4 973.5,448.4 977.5,447.5 981.5,446.6 985.5,445.7 989.5,444.9 993.5,444.0 997.5,443.2 1001.5,442.4 1005.6,441.7 1009.6,440.9 1013.6,440.2 1017.6,439.5 1021.6,438.8 1025.6,438.2 1029.6,437.5 1033.6,436.9 1037.6,436.4 1041.6,435.8 1045.6,435.3 1049.6,434.7 1053.6,434.3 1057.7,433.8 1061.7,433.4 1065.7,432.9 1069.7,432.6 1073.7,432.2 1077.7,431.9 1081.7,431.6 1085.7,431.3 1089.7,431.0 1093.7,430.8 1097.7,430.6 1101.7,430.4 1105.7,430.3 1109.8,430.2 1113.8,430.1 1117.8,430.0 1121.8,430.0 1125.8,430.0 1129.8,430.0 1133.8,430.1 1137.8,430.2 1141.8,430.3 1145.8,430.5 1149.8,430.7 1153.8,430.9 1157.8,431.1 1161.8,431.3 1165.9,431.6 1169.9,431.9 1173.9,432.2 1177.9,432.5 1181.9,432.8 1185.9,433.2 1189.9,433.5 1193.9,433.8 1197.9,434.2 1201.9,434.5 1205.9,434.8 1209.9,435.1 1213.9,435.4 1218.0,435.7 1222.0,436.0 1226.0,436.3 1230.0,436.5 1234.0,436.7 1238.0,436.9 1242.0,437.1" stroke="#dc1edc" stroke-width="3.2"/>
</g>
<g stroke="#000" fill="none">
<rect x="179.5" y="23.0" width="1094.7" height="768.5" stroke-width="3.4"/>
<path d="M179.5,753.08h7.0 M1274.2,753.08h-7.0 M179.5,714.65h13.0 M1274.2,714.65h-13.0 M179.5,676.23h7.0 M1274.2,676.23h-7.0 M179.5,637.80h13.0 M1274.2,637.80h-13.0 M179.5,599.38h7.0 M1274.2,599.38h-7.0 M179.5,560.95h13.0 M1274.2,560.95h-13.0 M179.5,522.53h7.0 M1274.2,522.53h-7.0 M179.5,484.10h13.0 M1274.2,484.10h-13.0 M179.5,445.68h7.0 M1274.2,445.68h-7.0 M179.5,407.25h13.0 M1274.2,407.25h-13.0 M179.5,368.82h7.0 M1274.2,368.82h-7.0 M179.5,330.40h13.0 M1274.2,330.40h-13.0 M179.5,291.98h7.0 M1274.2,291.98h-7.0 M179.5,253.55h13.0 M1274.2,253.55h-13.0 M179.5,215.12h7.0 M1274.2,215.12h-7.0 M179.5,176.70h13.0 M1274.2,176.70h-13.0 M179.5,138.27h7.0 M1274.2,138.27h-7.0 M179.5,99.85h13.0 M1274.2,99.85h-13.0 M179.5,61.43h7.0 M1274.2,61.43h-7.0 M205.26,791.5v-7.0 M205.26,23.0v7.0 M224.92,791.5v-7.0 M224.92,23.0v7.0 M240.99,791.5v-7.0 M240.99,23.0v7.0 M254.57,791.5v-7.0 M254.57,23.0v7.0 M266.34,791.5v-7.0 M266.34,23.0v7.0 M276.72,791.5v-7.0 M276.72,23.0v7.0 M286.00,791.5v-13.0 M286.00,23.0v13.0 M347.08,791.5v-7.0 M347.08,23.0v7.0 M382.81,791.5v-7.0 M382.81,23.0v7.0 M408.16,791.5v-7.0 M408.16,23.0v7.0 M427.82,791.5v-7.0 M427.82,23.0v7.0 M443.89,791.5v-7.0 M443.89,23.0v7.0 M457.47,791.5v-7.0 M457.47,23.0v7.0 M469.24,791.5v-7.0 M469.24,23.0v7.0 M479.62,791.5v-7.0 M479.62,23.0v7.0 M488.90,791.5v-13.0 M488.90,23.0v13.0 M549.98,791.5v-7.0 M549.98,23.0v7.0 M585.71,791.5v-7.0 M585.71,23.0v7.0 M611.06,791.5v-7.0 M611.06,23.0v7.0 M630.72,791.5v-7.0 M630.72,23.0v7.0 M646.79,791.5v-7.0 M646.79,23.0v7.0 M660.37,791.5v-7.0 M660.37,23.0v7.0 M672.14,791.5v-7.0 M672.14,23.0v7.0 M682.52,791.5v-7.0 M682.52,23.0v7.0 M691.80,791.5v-13.0 M691.80,23.0v13.0 M752.88,791.5v-7.0 M752.88,23.0v7.0 M788.61,791.5v-7.0 M788.61,23.0v7.0 M813.96,791.5v-7.0 M813.96,23.0v7.0 M833.62,791.5v-7.0 M833.62,23.0v7.0 M849.69,791.5v-7.0 M849.69,23.0v7.0 M863.27,791.5v-7.0 M863.27,23.0v7.0 M875.04,791.5v-7.0 M875.04,23.0v7.0 M885.42,791.5v-7.0 M885.42,23.0v7.0 M894.70,791.5v-13.0 M894.70,23.0v13.0 M955.78,791.5v-7.0 M955.78,23.0v7.0 M991.51,791.5v-7.0 M991.51,23.0v7.0 M1016.86,791.5v-7.0 M1016.86,23.0v7.0 M1036.52,791.5v-7.0 M1036.52,23.0v7.0 M1052.59,791.5v-7.0 M1052.59,23.0v7.0 M1066.17,791.5v-7.0 M1066.17,23.0v7.0 M1077.94,791.5v-7.0 M1077.94,23.0v7.0 M1088.32,791.5v-7.0 M1088.32,23.0v7.0 M1097.60,791.5v-13.0 M1097.60,23.0v13.0 M1158.68,791.5v-7.0 M1158.68,23.0v7.0 M1194.41,791.5v-7.0 M1194.41,23.0v7.0 M1219.76,791.5v-7.0 M1219.76,23.0v7.0 M1239.42,791.5v-7.0 M1239.42,23.0v7.0 M1255.49,791.5v-7.0 M1255.49,23.0v7.0 M1269.07,791.5v-7.0 M1269.07,23.0v7.0" stroke-width="3.3" stroke-linecap="round"/>
</g>
<rect x="251.25" y="45.2" width="250" height="502.2" fill="#f6f6f6" stroke="#8f8f8f" stroke-width="2"/>
<g fill="none" stroke-linecap="round">
<path d="M255.8,74.1H358.2" stroke="#000000" stroke-width="3.2"/>
<path d="M255.8,123.6H358.2" stroke="#7d19e0" stroke-width="3.2" stroke-dasharray="13.8 20.2"/>
<path d="M255.8,173.0H358.2" stroke="#000000" stroke-width="3.2" stroke-dasharray="17.2 11.4 2.2 11.9"/>
<path d="M255.8,222.5H358.2" stroke="#dc1c1c" stroke-width="3.2"/>
<path d="M255.8,272.0H358.2" stroke="#dc1c1c" stroke-width="3.2" stroke-dasharray="13.8 20.2"/>
<path d="M255.8,321.4H358.2" stroke="#dc1c1c" stroke-width="3.2" stroke-dasharray="17.2 11.4 2.2 11.9"/>
<path d="M255.8,370.9H358.2" stroke="#1212d0" stroke-width="3.2"/>
<path d="M255.8,420.4H358.2" stroke="#1212d0" stroke-width="3.2" stroke-dasharray="13.8 20.2"/>
<path d="M255.8,469.9H358.2" stroke="#1212d0" stroke-width="3.2" stroke-dasharray="17.2 11.4 2.2 11.9"/>
<path d="M255.8,519.3H358.2" stroke="#dc1edc" stroke-width="3.2"/>
</g>
<defs><filter id="gs" x="0" y="0" width="1280" height="918" filterUnits="userSpaceOnUse" color-interpolation-filters="sRGB"><feColorMatrix type="saturate" values="0"/></filter></defs>
<g filter="url(#gs)" fill="#000" stroke="#f6f6f6" stroke-width="0.42" stroke-linejoin="round" style="font-family:'Liberation Sans',sans-serif;font-kerning:none;font-variant-ligatures:none"><text transform="matrix(1.0,0,0,1.04,55.59,805.90)" x="0 15.82 42.24 57.01 81.85" y="0" font-size="47.5">-0.10</text><g transform="matrix(1.0,0,0,1.04,55.59,805.90)" fill="#f6f6f6" stroke="none"><rect x="59.73" y="-5.15" width="9.23" height="6.15"/><rect x="73.15" y="-5.15" width="8.86" height="6.15"/></g><text transform="matrix(1.0,0,0,1.04,55.73,729.05)" x="0 15.82 42.24 55.43 81.85" y="0" font-size="47.5">-0.05</text><text transform="matrix(1.0,0,0,1.04,71.41,652.20)" x="0 26.42 39.61 66.03" y="0" font-size="47.5">0.00</text><text transform="matrix(1.0,0,0,1.04,71.55,575.35)" x="0 26.42 39.61 66.03" y="0" font-size="47.5">0.05</text><text transform="matrix(1.0,0,0,1.04,71.41,498.50)" x="0 26.42 41.19 66.03" y="0" font-size="47.5">0.10</text><g transform="matrix(1.0,0,0,1.04,71.41,498.50)" fill="#f6f6f6" stroke="none"><rect x="43.91" y="-5.15" width="9.23" height="6.15"/><rect x="57.33" y="-5.15" width="8.86" height="6.15"/></g><text transform="matrix(1.0,0,0,1.04,71.55,421.65)" x="0 26.42 41.19 66.03" y="0" font-size="47.5">0.15</text><g transform="matrix(1.0,0,0,1.04,71.55,421.65)" fill="#f6f6f6" stroke="none"><rect x="43.91" y="-5.15" width="9.23" height="6.15"/><rect x="57.33" y="-5.15" width="8.86" height="6.15"/></g><text transform="matrix(1.0,0,0,1.04,71.41,344.80)" x="0 26.42 39.61 66.03" y="0" font-size="47.5">0.20</text><text transform="matrix(1.0,0,0,1.04,71.55,267.95)" x="0 26.42 39.61 66.03" y="0" font-size="47.5">0.25</text><text transform="matrix(1.0,0,0,1.04,71.41,191.10)" x="0 26.42 39.61 66.03" y="0" font-size="47.5">0.30</text><text transform="matrix(1.0,0,0,1.04,71.55,114.25)" x="0 26.42 39.61 66.03" y="0" font-size="47.5">0.35</text><text transform="matrix(1.0,0,0,1.04,71.41,37.40)" x="0 26.42 39.61 66.03" y="0" font-size="47.5">0.40</text><text transform="matrix(1.0,0,0,1.04,246.96,850.00)" x="1.58 26.42" y="0" font-size="47.5">10</text><g transform="matrix(1.0,0,0,1.04,246.96,850.00)" fill="#f6f6f6" stroke="none"><rect x="4.30" y="-5.15" width="9.23" height="6.15"/><rect x="17.72" y="-5.15" width="8.86" height="6.15"/></g><text transform="matrix(1.0,0,0,1.04,299.79,827.00)" x="0 9.46" y="0" font-size="28.4">-2</text><text transform="matrix(1.0,0,0,1.04,449.86,850.00)" x="1.58 26.42" y="0" font-size="47.5">10</text><g transform="matrix(1.0,0,0,1.04,449.86,850.00)" fill="#f6f6f6" stroke="none"><rect x="4.30" y="-5.15" width="9.23" height="6.15"/><rect x="17.72" y="-5.15" width="8.86" height="6.15"/></g><text transform="matrix(1.0,0,0,1.04,502.69,827.00)" x="0 10.4" y="0" font-size="28.4">-1</text><g transform="matrix(1.0,0,0,1.04,502.69,827.00)" fill="#f6f6f6" stroke="none"><rect x="11.66" y="-3.72" width="5.88" height="4.72"/><rect x="20.05" y="-3.72" width="5.66" height="4.72"/></g><text transform="matrix(1.0,0,0,1.04,657.49,850.00)" x="1.58 26.42" y="0" font-size="47.5">10</text><g transform="matrix(1.0,0,0,1.04,657.49,850.00)" fill="#f6f6f6" stroke="none"><rect x="4.30" y="-5.15" width="9.23" height="6.15"/><rect x="17.72" y="-5.15" width="8.86" height="6.15"/></g><text transform="matrix(1.0,0,0,1.04,710.32,827.00)" x="0" y="0" font-size="28.4">0</text><text transform="matrix(1.0,0,0,1.04,860.39,850.00)" x="1.58 26.42" y="0" font-size="47.5">10</text><g transform="matrix(1.0,0,0,1.04,860.39,850.00)" fill="#f6f6f6" stroke="none"><rect x="4.30" y="-5.15" width="9.23" height="6.15"/><rect x="17.72" y="-5.15" width="8.86" height="6.15"/></g><text transform="matrix(1.0,0,0,1.04,913.22,827.00)" x="0.94" y="0" font-size="28.4">1</text><g transform="matrix(1.0,0,0,1.04,913.22,827.00)" fill="#f6f6f6" stroke="none"><rect x="2.21" y="-3.72" width="5.88" height="4.72"/><rect x="10.59" y="-3.72" width="5.66" height="4.72"/></g><text transform="matrix(1.0,0,0,1.04,1063.29,850.00)" x="1.58 26.42" y="0" font-size="47.5">10</text><g transform="matrix(1.0,0,0,1.04,1063.29,850.00)" fill="#f6f6f6" stroke="none"><rect x="4.30" y="-5.15" width="9.23" height="6.15"/><rect x="17.72" y="-5.15" width="8.86" height="6.15"/></g><text transform="matrix(1.0,0,0,1.04,1116.12,827.00)" x="0" y="0" font-size="28.4">2</text><text transform="matrix(1.0,0,0,0.99,632.68,903.40)" x="0 13.25 23.85 63.58 90.11 103.37 119.25 143.1" y="0" font-size="47.7">time (s)</text><text transform="translate(38.00,406.35) rotate(-90) matrix(1.0,0,0,1.01,-83.45,0)" x="0 13.25 39.78 48.89 62.14 78.02 117.76 149.57" y="0" font-size="47.7">Id&#39; (mA)</text><text transform="matrix(1.0,0,0,1.04,552.81,94.50)" x="0 34.23 65.85 105.33 135.86 160.65" y="0" font-size="47.4">HEMT1.</text><g transform="matrix(1.0,0,0,1.04,552.81,94.50)" fill="#f6f6f6" stroke="none"><rect x="138.57" y="-5.14" width="9.21" height="6.14"/><rect x="151.97" y="-5.14" width="8.84" height="6.14"/></g><text transform="matrix(1.0,0,0,1.02,554.19,151.60)" x="0 31.48 57.73 85.3 111.55 137.8 177.12 208.6 221.71 234.82 266.31 292.56 316.16 329.27 355.52 381.77 405.37 418.49 434.2 460.45 475.13 499.82 531.3 547.02 574.58 591.87 616.55 629.66 655.91" y="0" font-size="47.2">Vd=50mV, Vgsteps -2.1V-&gt;-1.5V</text><g transform="matrix(1.0,0,0,1.02,554.19,151.60)" fill="#f6f6f6" stroke="none"><rect x="477.83" y="-5.13" width="9.17" height="6.13"/><rect x="491.18" y="-5.13" width="8.81" height="6.13"/><rect x="594.56" y="-5.13" width="9.17" height="6.13"/><rect x="607.91" y="-5.13" width="8.81" height="6.13"/></g><text transform="matrix(1.0,0,0,1.04,369.20,87.40)" x="0 22.41 44.83 67.24 78.44 100.85" y="0" font-size="40.3">325.4K</text><text transform="matrix(1.0,0,0,1.04,369.20,136.82)" x="0 22.41 44.83 67.24 78.44 100.85" y="0" font-size="40.3">335.4K</text><text transform="matrix(1.0,0,0,1.04,369.20,186.24)" x="0 22.41 44.83 67.24 78.44 100.85" y="0" font-size="40.3">344.9K</text><text transform="matrix(1.0,0,0,1.04,369.20,235.66)" x="0 22.41 44.83 67.24 78.44 100.85" y="0" font-size="40.3">354.9K</text><text transform="matrix(1.0,0,0,1.04,369.20,285.08)" x="0 22.41 44.83 67.24 78.44 100.85" y="0" font-size="40.3">364.9K</text><text transform="matrix(1.0,0,0,1.04,369.20,334.50)" x="0 22.41 44.83 67.24 78.44 100.85" y="0" font-size="40.3">374.9K</text><text transform="matrix(1.0,0,0,1.04,369.20,383.92)" x="0 22.41 44.83 67.24 79.77 100.85" y="0" font-size="40.3">385.1K</text><g transform="matrix(1.0,0,0,1.04,369.20,383.92)" fill="#f6f6f6" stroke="none"><rect x="81.94" y="-4.61" width="7.96" height="5.61"/><rect x="93.47" y="-4.61" width="7.65" height="5.61"/></g><text transform="matrix(1.0,0,0,1.04,369.20,433.34)" x="0 22.41 44.83 67.24 79.77 100.85" y="0" font-size="40.3">395.1K</text><g transform="matrix(1.0,0,0,1.04,369.20,433.34)" fill="#f6f6f6" stroke="none"><rect x="81.94" y="-4.61" width="7.96" height="5.61"/><rect x="93.47" y="-4.61" width="7.65" height="5.61"/></g><text transform="matrix(1.0,0,0,1.04,369.20,482.76)" x="0 22.41 44.83 67.24 79.77 100.85" y="0" font-size="40.3">405.1K</text><g transform="matrix(1.0,0,0,1.04,369.20,482.76)" fill="#f6f6f6" stroke="none"><rect x="81.94" y="-4.61" width="7.96" height="5.61"/><rect x="93.47" y="-4.61" width="7.65" height="5.61"/></g><text transform="matrix(1.0,0,0,1.04,369.20,532.18)" x="0 22.41 44.83 67.24 78.44 100.85" y="0" font-size="40.3">409.8K</text></g>
</svg></body></html>
